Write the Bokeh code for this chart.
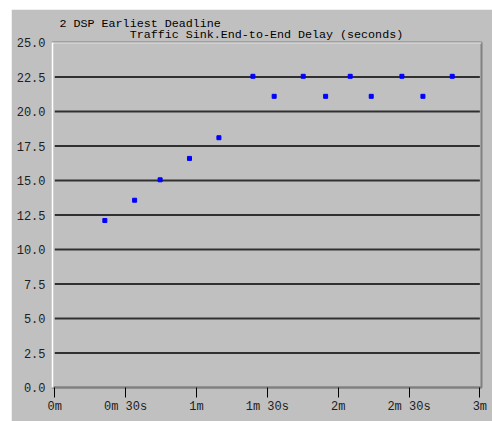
from bokeh.plotting import figure
from bokeh.models import Span, FixedTicker, Range1d, Title
from bokeh.embed import file_html
from bokeh.resources import INLINE

# ---- data ----
times_s = [21.2, 33.8, 44.6, 57.05, 69.5, 83.9, 92.9, 105.2, 114.7, 125.1, 134.0, 147.0, 155.9, 168.3]
delay_s = [12.1, 13.57, 15.05, 16.6, 18.1, 22.55, 21.1, 22.55, 21.1, 22.55, 21.1, 22.55, 21.1, 22.55]

x_ticks = [0, 30, 60, 90, 120, 150, 180]
x_tick_labels = ["0m", "0m 30s", "1m", "1m 30s", "2m", "2m 30s", "3m"]
y_ticks = [0.0, 2.5, 5.0, 7.5, 10.0, 12.5, 15.0, 17.5, 20.0, 22.5, 25.0]
grid_vals = [2.5, 5.0, 7.5, 10.0, 12.5, 15.0, 17.5, 20.0, 22.5]

title_line1 = "2 DSP Earliest Deadline"
title_line2 = "Traffic Sink.End-to-End Delay (seconds)"

FONT = "Liberation Mono"
BG = "#c0c0c0"

p = figure(width=481, height=412, output_backend="svg", toolbar_location=None,
           x_range=Range1d(-0.97, 180.7), y_range=Range1d(0, 25),
           min_border_left=41, min_border_right=11, min_border_top=33, min_border_bottom=34,
           background_fill_color=BG, border_fill_color=BG,
           outline_line_color="#808080", outline_line_width=2)
p.margin = (9, 0, 0, 11)

p.xgrid.visible = False
p.ygrid.visible = False

# gridlines
n = len(grid_vals)
p.segment(x0=[x_ticks[0]] * n, x1=[x_ticks[-1]] * n, y0=grid_vals, y1=grid_vals,
          line_color="#303030", line_width=2)

# points
p.scatter(times_s, delay_s, marker="square", size=4, color="#0000ff")

# axes
p.xaxis.ticker = FixedTicker(ticks=x_ticks)
p.xaxis.major_label_overrides = {t: l for t, l in zip(x_ticks, x_tick_labels)}
p.xaxis.axis_line_color = "#808080"
p.xaxis.axis_line_width = 2
p.xaxis.major_tick_out = 10
p.xaxis.major_tick_in = 0
p.xaxis.major_tick_line_color = "#000000"
p.xaxis.minor_tick_line_color = None
p.xaxis.major_label_standoff = 2
p.xaxis.major_label_text_font = FONT
p.xaxis.major_label_text_font_size = "12px"
p.xaxis.major_label_text_color = "#202020"

p.yaxis.ticker = FixedTicker(ticks=y_ticks)
p.yaxis.major_label_overrides = {t: f"{t:.1f}" for t in y_ticks}
p.yaxis.axis_line_color = "#ffffff"
p.yaxis.axis_line_width = 2
p.yaxis.major_tick_line_color = None
p.yaxis.minor_tick_line_color = None
p.yaxis.major_tick_out = 0
p.yaxis.major_label_standoff = 7
p.yaxis.major_label_text_font = FONT
p.yaxis.major_label_text_font_size = "12px"
p.yaxis.major_label_text_color = "#202020"

# top white edge
p.add_layout(Span(location=25, dimension="width", line_color="#ffffff", line_width=2))

# two-line title
p.add_layout(Title(text=title_line1 + "\n" + "\u00a0" * 10 + title_line2, align="left", offset=7,
                   standoff=0, text_font=FONT, text_font_size="11.7px", text_font_style="normal",
                   text_line_height=0.85, text_color="#000000"), "above")

open("out.html", "w").write(file_html(p, INLINE))
